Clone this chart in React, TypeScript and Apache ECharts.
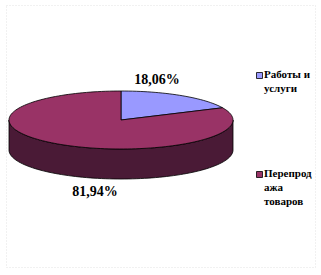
import React, { useEffect, useRef } from "react";
import * as echarts from "echarts";

// ---- data ----
const categories = ["Работы и услуги", "Перепродажа товаров"];
const legendLines = [["Работы и", "услуги"], ["Перепрод", "ажа", "товаров"]];
const values = [18.06, 81.94];
const topColors = ["#9999FF", "#993366"];
const sideColors = ["#4D4D80", "#4A1A36"];

// ---- layout ----
const PIE = { cx: 121, cy: 120, rx: 112, ry: 29, depth: 30 };
const LABEL_POS = [
  [157, 79],
  [95, 191],
];
const LEGEND = { x: 256, ys: [72, 171], textX: 264, textYs: [66.5, 165.5], lineHeight: 14 };
const FONT = "Liberation Serif";

function pt(theta: number): number[] {
  const r = (theta * Math.PI) / 180;
  return [PIE.cx + PIE.rx * Math.sin(r), PIE.cy - PIE.ry * Math.cos(r)];
}
function arc(a0: number, a1: number, dy = 0): number[][] {
  const n = Math.max(2, Math.ceil((a1 - a0) / 2));
  const out: number[][] = [];
  for (let i = 0; i <= n; i++) {
    const p = pt(a0 + ((a1 - a0) * i) / n);
    out.push([p[0], p[1] + dy]);
  }
  return out;
}

export default function App() {
  const ref = useRef<HTMLDivElement>(null);
  useEffect(() => {
    if (!ref.current) return;
    const chart = echarts.init(ref.current, null, { renderer: "svg" });
    const total = values.reduce((a, b) => a + b, 0);

    const renderItem = (params: any, api: any) => {
      const i = params.dataIndex;
      let before = 0;
      for (let k = 0; k < i; k++) before += values[k];
      const v = api.value(0);
      const start = (before / total) * 360;
      const end = start + (v / total) * 360;
      const children: any[] = [];
      const s = Math.max(start, 90);
      const e = Math.min(end, 270);
      if (s < e) {
        const top = arc(s, e);
        const bottom = arc(s, e, PIE.depth).reverse();
        children.push({
          type: "polygon",
          z2: 0,
          shape: { points: top.concat(bottom) },
          style: { fill: sideColors[i], stroke: "#000", lineWidth: 0.8, lineJoin: "round" },
        });
      }
      children.push({
        type: "polygon",
        z2: 1,
        shape: { points: [[PIE.cx, PIE.cy]].concat(arc(start, end)) },
        style: { fill: topColors[i], stroke: "#000", lineWidth: 0.8, lineJoin: "round" },
      });
      const pct = ((v / total) * 100).toFixed(2).replace(".", ",") + "%";
      children.push({
        type: "text",
        z2: 2,
        x: LABEL_POS[i][0],
        y: LABEL_POS[i][1],
        style: {
          text: pct,
          fill: "#000",
          fontFamily: FONT,
          fontWeight: "bold",
          fontSize: 14,
          align: "center",
          verticalAlign: "middle",
        },
      });
      return { type: "group", children };
    };

    const graphic: any[] = [
      {
        type: "rect",
        shape: { x: 6.5, y: 5.5, width: 309, height: 262 },
        style: { fill: "none", stroke: "#e2e2e2", lineWidth: 1, lineDash: [1, 2] },
        silent: true,
      },
    ];
    categories.forEach((name, i) => {
      graphic.push({
        type: "rect",
        shape: { x: LEGEND.x + 0.5, y: LEGEND.ys[i] + 0.5, width: 6, height: 6 },
        style: { fill: topColors[i], stroke: "#000", lineWidth: 0.8 },
      });
      graphic.push({
        type: "text",
        x: LEGEND.textX,
        y: LEGEND.textYs[i],
        style: {
          text: legendLines[i].join("\n"),
          fill: "#000",
          fontFamily: FONT,
          fontWeight: "bold",
          fontSize: 11,
          lineHeight: LEGEND.lineHeight,
          align: "left",
          verticalAlign: "top",
        },
      });
    });

    chart.setOption({
      animation: false,
      backgroundColor: "#fff",
      graphic,
      series: [
        {
          type: "custom",
          name: "Структура",
          coordinateSystem: "none",
          renderItem,
          data: values.map((v, i) => ({ value: v, name: categories[i] })),
          silent: true,
        },
      ],
    });
    return () => chart.dispose();
  }, []);
  return (
    <div
      ref={ref}
      style={{ position: "fixed", left: 0, top: 0, width: 321, height: 275 }}
    />
  );
}
